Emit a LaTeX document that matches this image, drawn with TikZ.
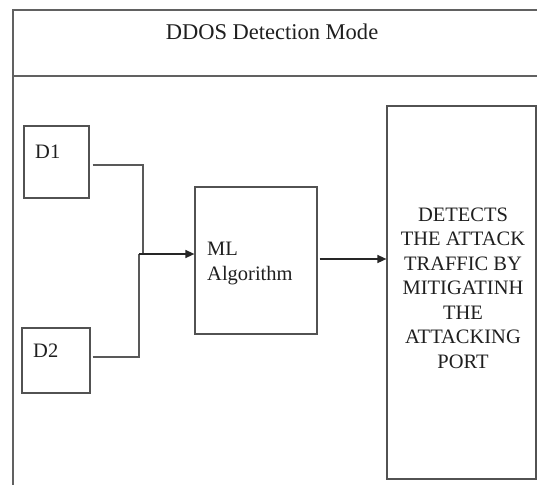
\documentclass[tikz,border=0pt]{standalone}
\usepackage{fontspec}
\setmainfont{Liberation Serif}
\usetikzlibrary{arrows.meta}
\begin{document}
\begin{tikzpicture}[x=1pt,y=-1pt,
  frame/.style={draw=black!62, line width=1.3pt},
  box/.style={draw=black!68, line width=1.2pt, rectangle, inner sep=0pt},
  wire/.style={draw=black!65, line width=1.2pt},
  arrowline/.style={draw=black!85, line width=1.4pt, -{Triangle[length=9pt,width=8pt]}},
  txt/.style={font=\fontsize{20.5}{24.5}\selectfont, inner sep=0pt, text=black!88}]
\useasboundingbox (0,0) rectangle (537,485);
% outer frame with header band
\draw[frame] (537,10) -- (13,10) -- (13,485);
\draw[frame] (13,76) -- (537,76);
\node[txt, font=\fontsize{22.5}{24}\selectfont] (title) at (272,32) {DDOS Detection Mode};
% data sources
\node[box, minimum width=65pt, minimum height=72pt] (d1) at (56.5,162) {};
\node[txt, anchor=north west] (d1t) at (35,145) {D1};
\node[box, minimum width=68pt, minimum height=65pt] (d2) at (56,360.5) {};
\node[txt, anchor=north west] (d2t) at (33,344) {D2};
% classifier
\node[box, minimum width=122pt, minimum height=147pt] (ml) at (256,260.5) {};
\node[txt, anchor=north west, align=left] (mlt) at (207,242) {ML\\Algorithm};
% result
\node[box, minimum width=149pt, minimum height=373pt] (res) at (461.5,292.5) {};
\node[txt, align=center] (rest) at (463,288) {DETECTS\\THE ATTACK\\TRAFFIC BY\\MITIGATINH\\THE\\ATTACKING\\PORT};
% connectors
\coordinate (j1) at (143,254);
\coordinate (j2) at (139,254);
\draw[wire] ([xshift=3pt]d1.east |- 0,165) -| (j1);
\draw[wire] ([xshift=2pt]d2.east |- 0,357) -| (j2);
\draw[arrowline] (j2) -- (ml.west |- j2);
\draw[arrowline] ([xshift=2pt]ml.east |- 0,259) -- (res.west |- 0,259);
\end{tikzpicture}
\end{document}
